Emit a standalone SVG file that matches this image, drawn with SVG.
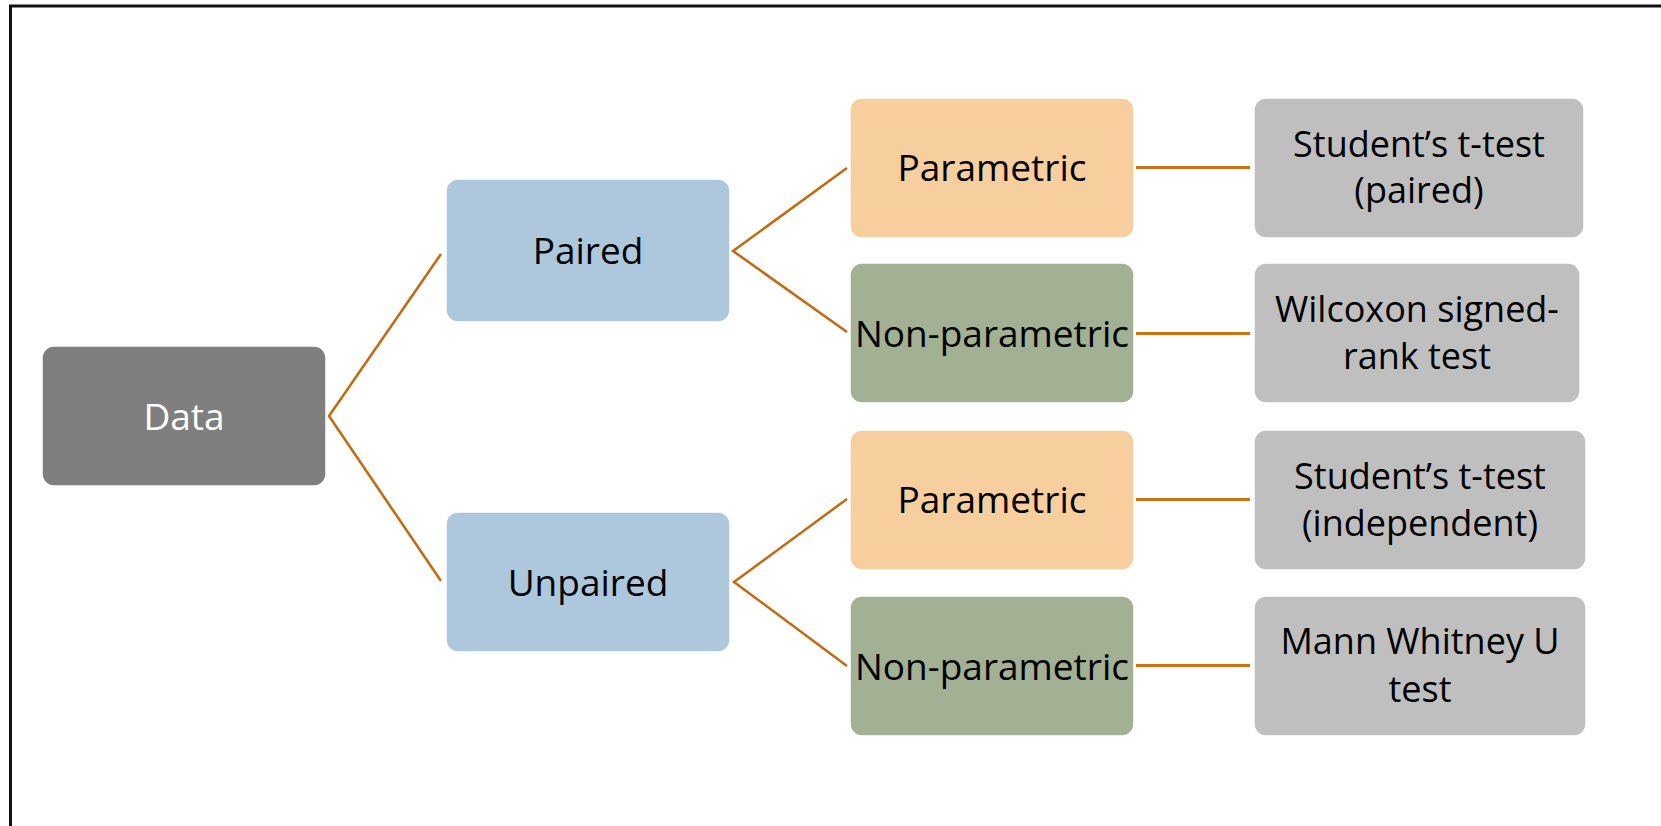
<svg xmlns="http://www.w3.org/2000/svg" width="1661" height="826" viewBox="0 0 1661 826">
<style>
.box{stroke:#ffffff;stroke-width:1.5}
.data{fill:#7f7f7f}
.pair{fill:#adc8dd}
.par{fill:#f7ce9d}
.np{fill:#a2b093}
.res{fill:#bfbfbf}
text{font-family:"Open Sans","Noto Sans","DejaVu Sans",sans-serif;font-size:37px;text-anchor:middle;fill:#000}
.t2{font-size:36px}
.w{fill:#ffffff}
.diag{stroke:#c5690f;stroke-width:2.5;fill:none}
.hor{stroke:#d0700f;stroke-width:3;fill:none}
</style>
<rect width="1661" height="826" fill="#ffffff"/>
<path d="M10.5,826 V6 H1661" fill="none" stroke="#111" stroke-width="3"/>
<g id="connectors">
<polyline class="diag" points="441,254 329,416 441,581"/>
<polyline class="diag" points="847,168 733,251 847,332"/>
<polyline class="diag" points="847,499 734,582 847,666"/>
<line class="hor" x1="1136" y1="167.5" x2="1250" y2="167.5"/>
<line class="hor" x1="1136" y1="333.5" x2="1250" y2="333.5"/>
<line class="hor" x1="1136" y1="499.5" x2="1250" y2="499.5"/>
<line class="hor" x1="1136" y1="665.5" x2="1250" y2="665.5"/>
</g>
<g id="data"><rect class="box data" x="42" y="346" width="284" height="140" rx="12"/><text class="w" x="184" y="430">Data</text></g>
<g id="paired"><rect class="box pair" x="446" y="179" width="284" height="143" rx="12"/><text x="588" y="264">Paired</text></g>
<g id="unpaired"><rect class="box pair" x="446" y="512" width="284" height="140" rx="12"/><text x="588" y="596">Unpaired</text></g>
<g id="param1"><rect class="box par" x="850" y="98" width="284" height="140" rx="12"/><text x="992" y="181">Parametric</text></g>
<g id="nonparam1"><rect class="box np" x="850" y="263" width="284" height="140" rx="12"/><text x="992" y="347">Non-parametric</text></g>
<g id="param2"><rect class="box par" x="850" y="430" width="284" height="140" rx="12"/><text x="992" y="513">Parametric</text></g>
<g id="nonparam2"><rect class="box np" x="850" y="596" width="284" height="140" rx="12"/><text x="992" y="680">Non-parametric</text></g>
<g id="ttest-paired"><rect class="box res" x="1254" y="98" width="330" height="140" rx="12"/><text class="t2" x="1419" y="157">Student’s t-test</text><text class="t2" x="1419" y="203">(paired)</text></g>
<g id="wilcoxon"><rect class="box res" x="1254" y="263" width="326" height="140" rx="12"/><text class="t2" x="1417" y="322">Wilcoxon signed-</text><text class="t2" x="1417" y="369">rank test</text></g>
<g id="ttest-indep"><rect class="box res" x="1254" y="430" width="332" height="140" rx="12"/><text class="t2" x="1420" y="489">Student’s t-test</text><text class="t2" x="1420" y="536">(independent)</text></g>
<g id="mann"><rect class="box res" x="1254" y="596" width="332" height="140" rx="12"/><text class="t2" x="1420" y="654">Mann Whitney U</text><text class="t2" x="1420" y="702">test</text></g>
</svg>
